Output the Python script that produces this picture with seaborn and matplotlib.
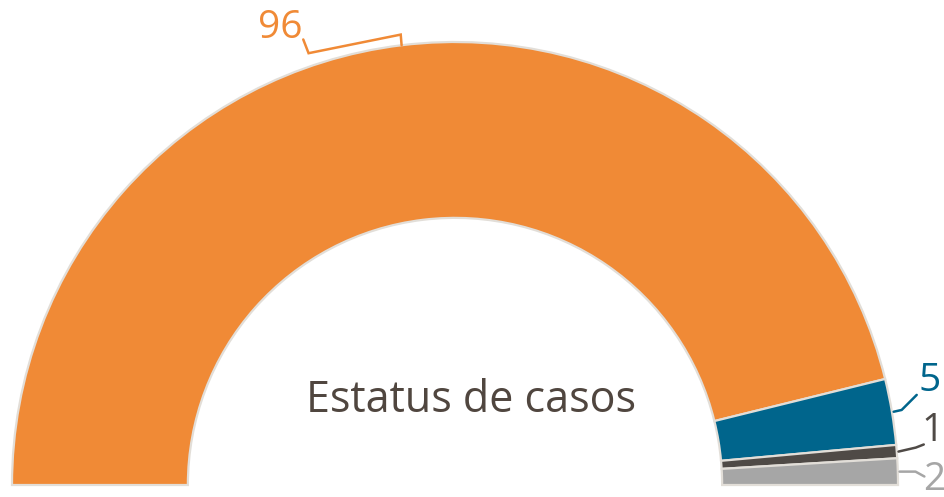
import numpy as np
import matplotlib
matplotlib.use("Agg")
import matplotlib.pyplot as plt
import seaborn as sns

# data
categories = ["Activos", "Recuperados", "Fallecidos", "Otros"]
values = [96, 5, 1, 2]
colors = ["#f08a36", "#00658c", "#4f4a46", "#a6a6a6"]
center_text = "Estatus de casos"

sns.set_theme(style="white")
plt.rcParams["font.family"] = ["Open Sans", "DejaVu Sans"]

fig = plt.figure(figsize=(9.45, 4.97), dpi=100)
ax = fig.add_axes([0, 0, 1, 1])

total = sum(values)
# half donut: an invisible wedge fills the bottom half
wedges, _ = ax.pie(values + [total], startangle=180, counterclock=False,
                   radius=1.0, colors=colors + ["none"],
                   wedgeprops=dict(width=0.397, edgecolor="#e2ded8", linewidth=1.6))
wedges[-1].set_edgecolor("none")

ax.set_xlim(-455 / 443, (945 - 455) / 443)
ax.set_ylim(-(497 - 485) / 443, 485 / 443)
ax.set_aspect("equal")
ax.axis("off")

ax.text(0.035, 0.165, center_text, ha="center", va="baseline", fontsize=31,
        color="#50463f")

# labels with leader lines
cum = np.cumsum([0] + values)
mids = [180 - (cum[i] + values[i] / 2) / total * 180 for i in range(len(values))]
fs = 28

# 96: bracket over the top
a = np.radians(mids[0])
px, py = np.cos(a), np.sin(a)
ax.plot([px, px - 0.002, px - 0.21, px - 0.222],
        [py, py + 0.024, py - 0.018, py + 0.013],
        color=colors[0], lw=1.8, solid_joinstyle="miter")
ax.text(px - 0.275, py + 0.04, str(values[0]), ha="center", va="center",
        fontsize=fs, color=colors[0])

# small slices on the right: (dx1, dy1, dx2, dy2, text dx, text dy)
leaders = {
    1: (0.018, 0.004, 0.052, 0.038, 0.056, 0.07),
    2: (0.039, 0.009, 0.057, 0.016, 0.052, 0.046),
    3: (0.036, 0.0, 0.056, -0.011, 0.054, -0.02),
}
for i, (dx1, dy1, dx2, dy2, tdx, tdy) in leaders.items():
    a = np.radians(mids[i])
    px, py = np.cos(a) + 0.004, np.sin(a)
    ax.plot([px, px + dx1, px + dx2], [py, py + dy1, py + dy2],
            color=colors[i], lw=1.8)
    ax.text(px + tdx, py + tdy, str(values[i]), ha="left",
            va="center", fontsize=fs, color=colors[i])

fig.savefig("out.png", dpi=100)
